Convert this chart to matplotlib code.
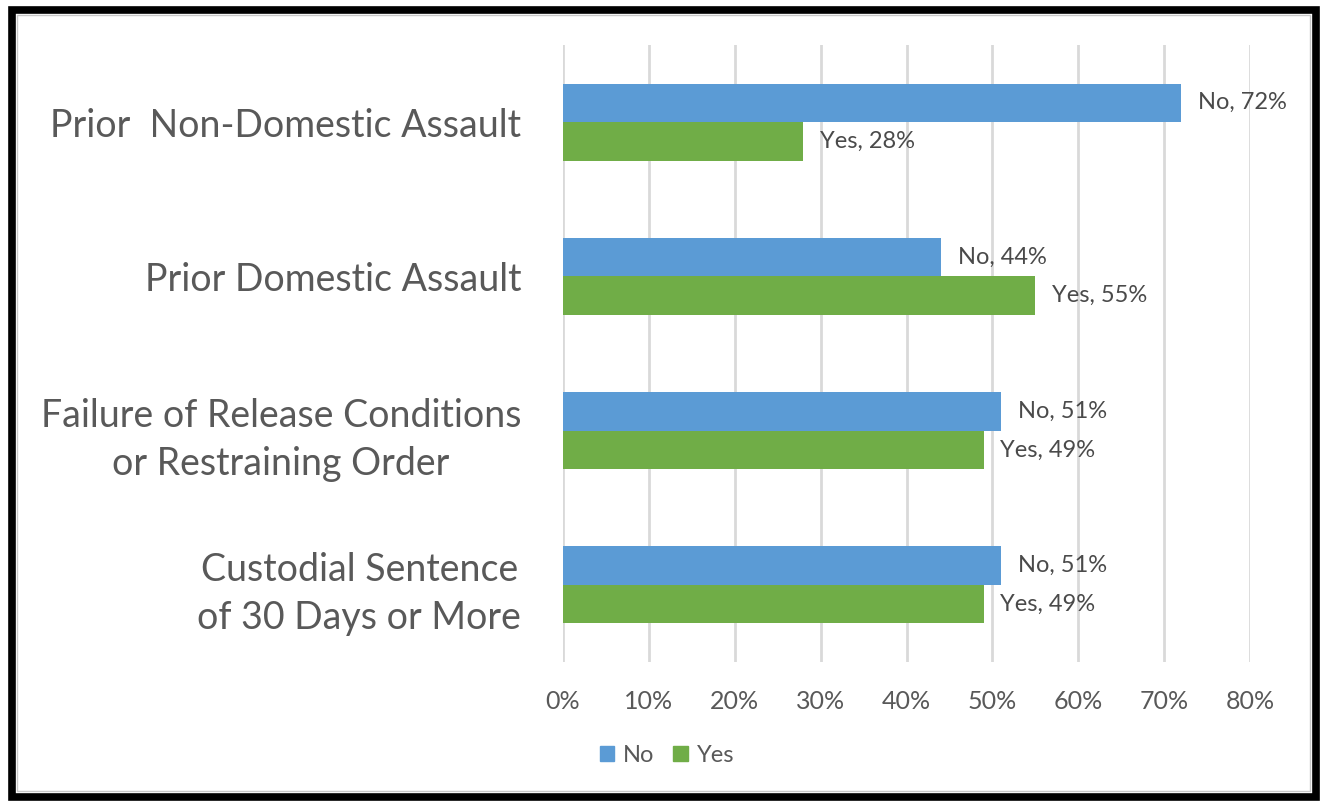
import numpy as np
import matplotlib
matplotlib.use('Agg')
from matplotlib import pyplot as plt
from matplotlib.patches import Patch, Rectangle

plt.rcParams['font.family'] = ['Lato', 'DejaVu Sans']

categories = ['Prior  Non-Domestic Assault',
              'Prior Domestic Assault',
              'Failure of Release Conditions\nor Restraining Order',
              'Custodial Sentence\nof 30 Days or More']
no_vals = [72, 44, 51, 51]
yes_vals = [28, 55, 49, 49]
xticks = [0, 10, 20, 30, 40, 50, 60, 70, 80]

blue = '#5B9BD5'
green = '#70AD47'
text_grey = '#595959'

fig = plt.figure(figsize=(13.2, 8.01), dpi=100)
ax = fig.add_axes([563/1320, 1-662/801, (1250-563)/1320, (662-45)/801])

y = np.arange(len(categories))
h = 0.25
ax.barh(y - h/2, no_vals, height=h, color=blue, zorder=3)
ax.barh(y + h/2, yes_vals, height=h, color=green, zorder=3)

for i in range(len(categories)):
    ax.annotate('No, {}%'.format(no_vals[i]), (no_vals[i], y[i] - h/2),
                xytext=(12, 0), textcoords='offset points',
                va='center', ha='left', fontsize=17, color='#4a4a4a')
    ax.annotate('Yes, {}%'.format(yes_vals[i]), (yes_vals[i], y[i] + h/2),
                xytext=(12, 0), textcoords='offset points',
                va='center', ha='left', fontsize=17, color='#4a4a4a')

ax.set_xlim(0, 80)
ax.set_ylim(3.5, -0.5)
ax.set_xticks(xticks)
ax.set_xticklabels(['{}%'.format(t) for t in xticks], fontsize=18, color=text_grey)
ax.set_yticks(y)
ax.set_yticklabels(categories, fontsize=27, color=text_grey, linespacing=1.4,
                   multialignment='center')
for lbl in ax.get_yticklabels():
    if '\n' in lbl.get_text():
        lbl.set_y(lbl.get_position()[1])
ax.tick_params(axis='y', length=0, pad=30)
ax.tick_params(axis='x', length=0, pad=20)
ax.grid(axis='x', color='#D9D9D9', linewidth=2, zorder=0)
for s in ax.spines.values():
    s.set_visible(False)

handles = [Patch(color=blue, label='No'), Patch(color=green, label='Yes')]
fig.legend(handles=handles, loc='center', bbox_to_anchor=(667/1320, 1-755/801),
           ncol=2, frameon=False, fontsize=17, handlelength=0.6, handleheight=0.6,
           handletextpad=0.4, columnspacing=0.8, labelcolor=text_grey)

# frame around the chart
fig.patches.append(Rectangle((12/1320, 1-797/801), (1316-12)/1320, (797-10)/801,
                             transform=fig.transFigure, fill=False,
                             edgecolor='black', linewidth=5.5))
fig.patches.append(Rectangle((17/1320, 1-791/801), (1310-17)/1320, (791-15)/801,
                             transform=fig.transFigure, fill=False,
                             edgecolor='#C8C8C8', linewidth=1))

fig.savefig('out.png', dpi=100)
